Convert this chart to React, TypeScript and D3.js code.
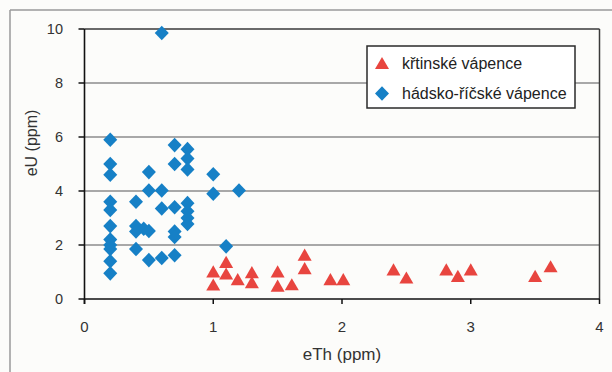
import React from "react";
import * as d3 from "d3";

const W = 612;
const H = 372;

const xTickValues = [0, 1, 2, 3, 4];
const yTickValues = [0, 2, 4, 6, 8, 10];
const xTitle = "eTh (ppm)";
const yTitle = "eU (ppm)";
const seriesNames = ["křtinské vápence", "hádsko-říčské vápence"];

// křtinské vápence (red triangles): [eTh, eU]
const kritinske: [number, number][] = [
  [1.0, 0.95], [1.0, 0.46], [1.1, 1.3], [1.1, 0.87], [1.19, 0.66],
  [1.3, 0.92], [1.3, 0.55], [1.5, 0.95], [1.5, 0.42], [1.61, 0.47],
  [1.71, 1.57], [1.71, 1.07], [1.91, 0.66], [2.01, 0.66],
  [2.4, 1.02], [2.5, 0.72], [2.81, 1.02], [2.9, 0.78], [3.0, 1.02],
  [3.5, 0.78], [3.62, 1.14],
];

// hádsko-říčské vápence (blue diamonds): [eTh, eU]
const hadsko: [number, number][] = [
  [0.2, 5.9], [0.2, 5.0], [0.2, 4.6], [0.2, 3.6], [0.2, 3.3], [0.2, 2.7],
  [0.2, 2.2], [0.2, 2.0], [0.2, 1.85], [0.2, 1.4], [0.2, 0.95],
  [0.4, 3.6], [0.4, 2.7], [0.4, 2.5], [0.4, 1.85], [0.46, 2.6],
  [0.5, 4.7], [0.5, 4.02], [0.5, 2.52], [0.5, 1.44],
  [0.6, 9.85], [0.6, 4.02], [0.6, 3.35], [0.6, 1.52],
  [0.7, 5.7], [0.7, 5.0], [0.7, 3.4], [0.7, 2.5], [0.7, 2.3], [0.7, 1.62],
  [0.8, 5.55], [0.8, 5.2], [0.8, 4.8], [0.8, 3.55], [0.8, 3.25], [0.8, 3.0], [0.8, 2.78],
  [1.0, 4.62], [1.0, 3.9], [1.1, 1.95], [1.2, 4.02],
];

const RED = "#e8453f";
const BLUE = "#1680c6";
const FONT = "'Liberation Sans Narrow', 'Liberation Sans', Arial, sans-serif";

const plot = { left: 84.5, right: 599.5, top: 29, bottom: 299 };

const x = d3.scaleLinear().domain([0, 4]).range([plot.left, plot.right]);
const y = d3.scaleLinear().domain([0, 10]).range([plot.bottom, plot.top]);

const triPath = d3.symbol().type(d3.symbolTriangle).size(85)() as string;
const diaPath = "M0,-7.3L7,0L0,7.3L-7,0Z";

export default function App() {
  return (
    <svg
      width={W}
      height={H}
      style={{ position: "absolute", left: 0, top: 0, display: "block" }}
      fontFamily={FONT}
    >
      <rect x={0} y={0} width={W} height={H} fill="#fcfcfa" />
      {/* outer frame */}
      <line x1={10} y1={10} x2={W} y2={10} stroke="#9a9a9a" strokeWidth={1.5} />
      <line x1={10} y1={10} x2={10} y2={H} stroke="#9a9a9a" strokeWidth={1.5} />

      {/* gridlines */}
      {yTickValues.filter((v) => v > 0 && v < 10).map((v) => (
        <line key={"g" + v} x1={plot.left} x2={plot.right} y1={y(v)} y2={y(v)} stroke="#8c8c8c" strokeWidth={1.5} />
      ))}
      {/* top and right borders */}
      <line x1={plot.left} x2={plot.right} y1={y(10)} y2={y(10)} stroke="#3a3a3a" strokeWidth={1.5} />
      <line x1={plot.right} x2={plot.right} y1={y(10)} y2={y(0)} stroke="#3a3a3a" strokeWidth={1.5} />

      {/* axes */}
      <line x1={plot.left} x2={plot.left} y1={y(10)} y2={y(0) + 5} stroke="#111" strokeWidth={1.6} />
      <line x1={plot.left} x2={plot.right} y1={y(0)} y2={y(0)} stroke="#111" strokeWidth={1.6} />
      {yTickValues.map((v) => (
        <g key={"yt" + v}>
          <line x1={plot.left - 6} x2={plot.left} y1={y(v)} y2={y(v)} stroke="#111" strokeWidth={1.5} />
          <text x={63} y={y(v) + 5} textAnchor="end" fontSize={14.5} fill="#333">{v}</text>
        </g>
      ))}
      {xTickValues.map((v) => (
        <g key={"xt" + v}>
          <line x1={x(v)} x2={x(v)} y1={y(0)} y2={y(0) + 5} stroke="#111" strokeWidth={1.5} />
          <text x={x(v)} y={332} textAnchor="middle" fontSize={15} fill="#333">{v}</text>
        </g>
      ))}
      <text x={342} y={360} textAnchor="middle" fontSize={17} fill="#333">{xTitle}</text>
      <text transform="translate(37,143) rotate(-90)" textAnchor="middle" fontSize={16} fill="#333">{yTitle}</text>

      {/* red triangles */}
      {kritinske.map(([a, b], i) => (
        <path key={"r" + i} d={triPath} transform={`translate(${x(a)},${y(b)})`} fill={RED} />
      ))}
      {/* blue diamonds */}
      {hadsko.map(([a, b], i) => (
        <path key={"b" + i} d={diaPath} transform={`translate(${x(a)},${y(b)})`} fill={BLUE} />
      ))}

      {/* legend */}
      <rect x={367} y={46} width={208} height={62} fill="#ffffff" stroke="#2a2a2a" strokeWidth={1.5} />
      <path d={triPath} transform="translate(382,65)" fill={RED} />
      <text x={402} y={69} fontSize={16} fill="#222">{seriesNames[0]}</text>
      <path d={diaPath} transform="translate(382,93.5)" fill={BLUE} />
      <text x={402} y={99} fontSize={16} fill="#222">{seriesNames[1]}</text>
    </svg>
  );
}
